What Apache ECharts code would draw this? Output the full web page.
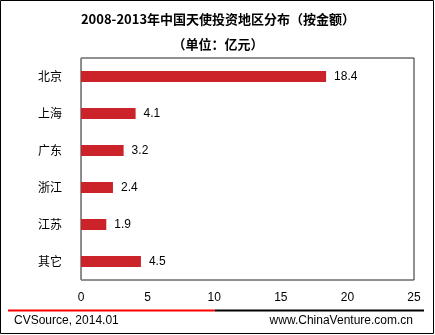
<!DOCTYPE html>
<html><head><meta charset="utf-8">
<script src="https://cdn.jsdelivr.net/npm/echarts@6/dist/echarts.min.js"></script>
<style>html,body{margin:0;padding:0;background:#fff}#c{width:435px;height:335px}</style>
</head><body><div id="c"></div>
<script>
const categories = ['北京','上海','广东','浙江','江苏','其它'];
const values = [18.4, 4.1, 3.2, 2.4, 1.9, 4.5];
const xTicks = [0, 5, 10, 15, 20, 25];
const titleText = '2008-2013年中国天使投资地区分布（按金额）';
const subtitleText = '（单位：亿元）';
const sourceText = 'CVSource, 2014.01';
const siteText = 'www.ChinaVenture.com.cn';

const chart = echarts.init(document.getElementById('c'), null, {renderer:'canvas'});
const cjk = '"Noto Sans CJK SC", sans-serif';
chart.setOption({
  animation: false,
  backgroundColor: '#fff',
  grid: {left: 81, top: 58, right: 21, bottom: 55, show: true, borderColor: '#222', borderWidth: 1},
  xAxis: {
    type: 'value', min: xTicks[0], max: xTicks[xTicks.length-1], interval: 5,
    splitLine: {show: false}, axisLine: {show: false}, axisTick: {show: false},
    axisLabel: {color: '#000', fontSize: 12, fontFamily: 'Liberation Sans, Arial', margin: 12}
  },
  yAxis: {
    type: 'category', data: categories, inverse: true,
    axisLine: {show: true, lineStyle: {color: '#888', width: 1}},
    axisTick: {show: false},
    axisLabel: {color: '#000', fontSize: 12, fontFamily: cjk, margin: 19}
  },
  series: [{
    type: 'bar', data: values, barWidth: 11,
    itemStyle: {color: '#cc2229'},
    label: {show: true, position: 'right', distance: 8, color: '#000', fontSize: 12, fontFamily: 'Liberation Sans, Arial'}
  }],
  graphic: [
    {type: 'rect', shape: {x: 0.5, y: 0.5, width: 433, height: 333}, style: {fill: null, stroke: '#000', lineWidth: 1}, z: 100},
    {type: 'text', x: 218, y: 19, style: {text: titleText, font: 'bold 13px ' + cjk, fill: '#000', textAlign: 'center', textVerticalAlign: 'middle'}},
    {type: 'text', x: 218, y: 44, style: {text: subtitleText, font: 'bold 13px ' + cjk, fill: '#000', textAlign: 'center', textVerticalAlign: 'middle'}},
    {type: 'line', shape: {x1: 8, y1: 310.5, x2: 215, y2: 310.5}, style: {stroke: '#ff0000', lineWidth: 2}},
    {type: 'line', shape: {x1: 215, y1: 310.5, x2: 424, y2: 310.5}, style: {stroke: '#000', lineWidth: 2}},
    {type: 'text', x: 14, y: 321, style: {text: sourceText, font: '12px Liberation Sans, Arial', fill: '#000', textAlign: 'left', textVerticalAlign: 'middle'}},
    {type: 'text', x: 413, y: 321, style: {text: siteText, font: '12px Liberation Sans, Arial', fill: '#000', textAlign: 'right', textVerticalAlign: 'middle'}}
  ]
});
</script></body></html>
